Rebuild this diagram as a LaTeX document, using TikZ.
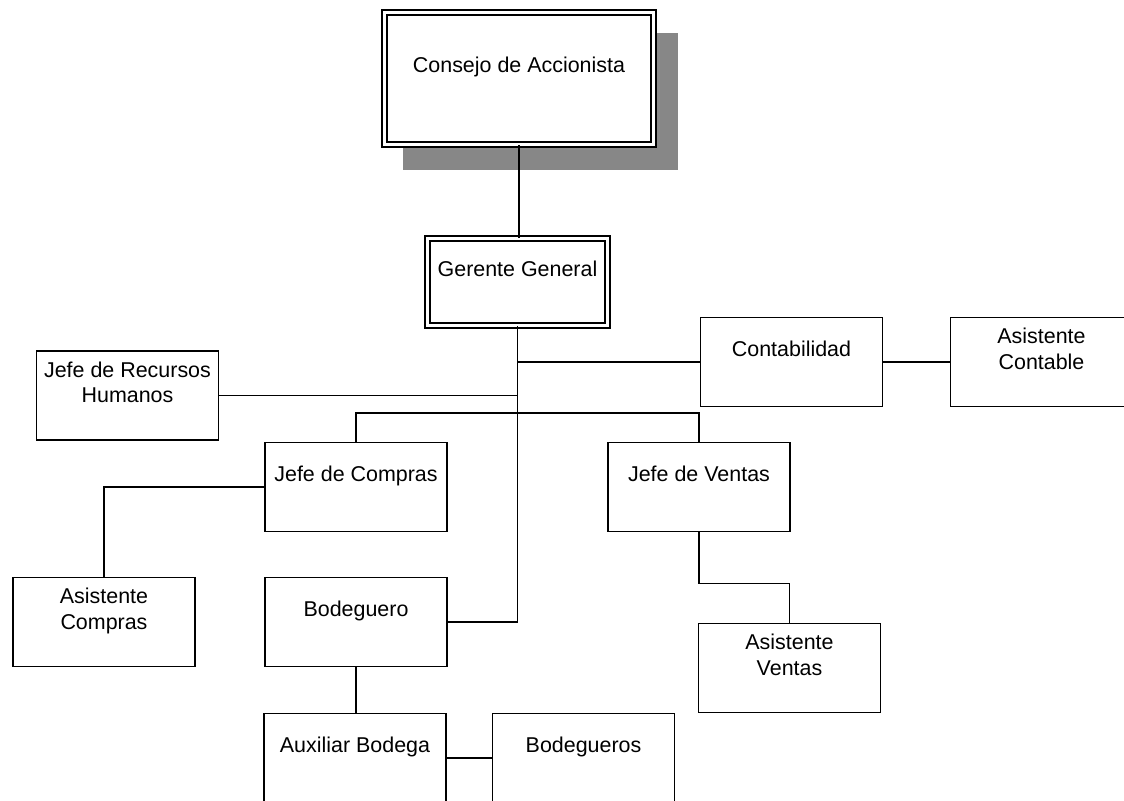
\documentclass[tikz,border=0pt]{standalone}
\usepackage{fontspec}
\setmainfont{Liberation Sans}
\usetikzlibrary{positioning,calc}

\begin{document}
\begin{tikzpicture}[x=0.02cm,y=-0.02cm,
  box/.style={draw,line width=0.9pt,fill=white,inner sep=0pt,minimum width=3.64cm,minimum height=1.78cm},
  mainbox/.style={draw,line width=0.8pt,double,double distance=0.07cm,fill=white,inner sep=0pt},
  txt/.style={anchor=north,align=center,inner sep=0pt,font=\fontsize{12.2}{14.5}\selectfont},
  oneline/.style={txt,yshift=-0.47cm},
  twoline/.style={txt,yshift=-0.22cm},
  link/.style={line width=0.85pt}]
\useasboundingbox (0,0) rectangle (1124,800);
\clip (0,0) rectangle (1124,800);

% Shadow of the top box
\fill[black!47] (403,33) rectangle (678,170);

% Top levels
\node[mainbox,minimum width=5.38cm,minimum height=2.64cm,label={[txt,yshift=-0.89cm]north:Consejo de Accionista}] (ca) at (519,78.5) {};
\node[mainbox,minimum width=3.6cm,minimum height=1.74cm,label={[txt,yshift=-0.45cm]north:Gerente General}] (gg) at (517.5,282) {};

% Units
\node[box,label={[twoline]north:Jefe de Recursos\\Humanos}] (rh) at (127.5,395.5) {};
\node[box,label={[oneline]north:Contabilidad}] (cont) at (791.5,362) {};
\node[box,label={[twoline]north:Asistente\\Contable}] (acont) at (1041.5,362) {};
\node[box,label={[oneline]north:Jefe de Compras}] (comp) at (356,487) {};
\node[box,label={[oneline]north:Jefe de Ventas}] (ven) at (699,487) {};
\node[box,label={[twoline]north:Asistente\\Compras}] (acomp) at (104,622) {};
\node[box,label={[oneline]north:Bodeguero}] (bod) at (356,622) {};
\node[box,label={[twoline]north:Asistente\\Ventas}] (aven) at (789.5,668) {};
\node[box,label={[oneline]north:Auxiliar Bodega}] (aux) at (355,758) {};
\node[box,label={[oneline]north:Bodegueros}] (bodz) at (583.5,758) {};

% Lines
\coordinate (bus) at (517.5,413);
\draw[link] (ca.south) -- (ca.south |- gg.north);
\draw[link] (gg.south) |- (bod.east);
\draw[link] (gg.south |- cont.west) -- (cont.west);
\draw[link] (rh.east) -- (rh.east -| gg.south);
\draw[link] (comp.north) |- (bus) -| (ven.north);
\draw[link] (cont.east) -- (acont.west);
\draw[link] (comp.west) -| (acomp.north);
\draw[link] (ven.south) -- ++(0,51) -| (aven.north);
\draw[link] (bod.south) -- (bod.south |- aux.north);
\draw[link] (aux.east) -- (bodz.west);
\end{tikzpicture}
\end{document}
